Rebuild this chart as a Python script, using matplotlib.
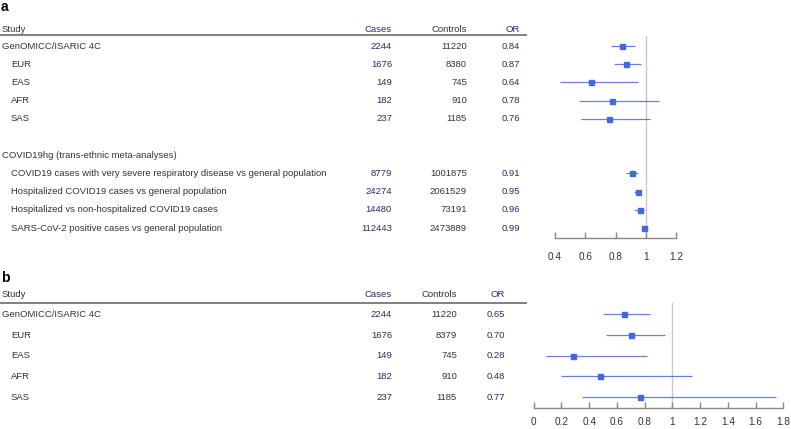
import matplotlib
matplotlib.use("Agg")
import matplotlib.pyplot as plt
import matplotlib.transforms as mtransforms
from matplotlib.lines import Line2D

plt.rcParams['font.family'] = ['Liberation Sans', 'DejaVu Sans']

# ---- panel a data ----
a_study = ["GenOMICC/ISARIC 4C", "EUR", "EAS", "AFR", "SAS", "",
           "COVID19hg (trans-ethnic meta-analyses)",
           "COVID19 cases with very severe respiratory disease vs general population",
           "Hospitalized COVID19 cases vs general population",
           "Hospitalized vs non-hospitalized COVID19 cases",
           "SARS-CoV-2 positive cases vs general population"]
a_indent = [0, 1, 1, 1, 1, 0, 0, 1, 1, 1, 1]
a_cases = ["2244", "1676", "149", "182", "237", "", "", "8779", "24274", "14480", "112443"]
a_controls = ["11220", "8380", "745", "910", "1185", "", "", "1001875", "2061529", "73191", "2473889"]
a_or = [0.84, 0.87, 0.64, 0.78, 0.76, None, None, 0.91, 0.95, 0.96, 0.99]
a_lo = [0.77, 0.79, 0.43, 0.56, 0.57, None, None, 0.87, 0.92, 0.92, 0.98]
a_hi = [0.93, 0.97, 0.95, 1.09, 1.03, None, None, 0.95, 0.97, 0.99, 1.00]
a_ticks = [0.4, 0.6, 0.8, 1, 1.2]

# ---- panel b data ----
b_study = ["GenOMICC/ISARIC 4C", "EUR", "EAS", "AFR", "SAS"]
b_indent = [0, 1, 1, 1, 1]
b_cases = ["2244", "1676", "149", "182", "237"]
b_controls = ["11220", "8379", "745", "910", "1185"]
b_or = [0.65, 0.70, 0.28, 0.48, 0.77]
b_lo = [0.50, 0.52, 0.09, 0.20, 0.35]
b_hi = [0.84, 0.95, 0.82, 1.14, 1.75]
b_ticks = [0, 0.2, 0.4, 0.6, 0.8, 1, 1.2, 1.4, 1.6, 1.8]

W, H = 791, 429
fig = plt.figure(figsize=(W / 100, H / 100), dpi=100)

FS = 6.8
TXT = '#333333'
NAVY = '#2a2a6a'
BLUE = '#4169e1'
LINE = '#5a70d6'


def fx(px):
    return px / W


def add_panel(label, label_y, ax_box, xlim, ylim, ticks, study, indent, cases,
              controls, ors, lo, hi, header_row, line_row, col_x, line_right, pad):
    left, top, right, bottom = ax_box
    ax = fig.add_axes([fx(left), 1 - bottom / H, fx(right - left), (bottom - top) / H])
    ax.set_xlim(*xlim)
    ax.set_ylim(*ylim)
    for s in ['top', 'right', 'left']:
        ax.spines[s].set_visible(False)
    ax.spines['bottom'].set_color('#888888')
    ax.spines['bottom'].set_linewidth(1.0)
    ax.set_yticks([])
    ax.set_xticks(ticks)
    ax.set_xticklabels([f"{t:g}" for t in ticks])
    ax.tick_params(axis='x', direction='in', length=4, width=1.0, color='#888888',
                   labelsize=FS + 0.4, labelcolor=TXT, pad=pad)
    ax.axvline(1, color='#c8c8c8', lw=1.0, zorder=0)
    for i, (o, l, h) in enumerate(zip(ors, lo, hi)):
        if o is None:
            continue
        ax.plot([l, h], [i, i], color=LINE, lw=0.9, alpha=0.9, solid_capstyle='butt')
        ax.plot([o], [i], marker='s', ms=3.6, color=BLUE, mec=BLUE, lw=0)

    tr = mtransforms.blended_transform_factory(fig.transFigure, ax.transData)
    cx_case, cx_ctrl, cx_or = col_x
    # header
    fig.text(fx(2), header_row, "Study", transform=tr, fontsize=FS, color=TXT, va='center')
    fig.text(fx(cx_case), header_row, "Cases", transform=tr, fontsize=FS, color=NAVY,
             va='center', ha='right')
    fig.text(fx(cx_ctrl), header_row, "Controls", transform=tr, fontsize=FS, color=TXT,
             va='center', ha='right')
    fig.text(fx(cx_or), header_row, "OR", transform=tr, fontsize=FS, color=NAVY,
             va='center', ha='right')
    fig.add_artist(Line2D([0, fx(line_right)], [line_row, line_row], transform=tr,
                          color='#808080', lw=1.4))
    for i, name in enumerate(study):
        x0 = 2 + 9 * indent[i]
        fig.text(fx(x0), i, name, transform=tr, fontsize=FS, color=TXT, va='center')
        if cases[i]:
            fig.text(fx(cx_case), i, cases[i], transform=tr, fontsize=FS, color=NAVY,
                     va='center', ha='right')
        if controls[i]:
            fig.text(fx(cx_ctrl), i, controls[i], transform=tr, fontsize=FS, color=TXT,
                     va='center', ha='right')
        if ors[i] is not None:
            fig.text(fx(cx_or), i, f"{ors[i]:.2f}", transform=tr, fontsize=FS, color=NAVY,
                     va='center', ha='right')
    fig.text(fx(1), 1 - label_y / H, label, fontsize=10, fontweight='bold', color='black',
             va='center')
    return ax


add_panel("a", 7, (555, 36, 676, 237.7), (0.4, 1.2), (10.53, -0.55), a_ticks,
          a_study, a_indent, a_cases, a_controls, a_or, a_lo, a_hi,
          header_row=-0.93, line_row=-0.6, col_x=(392, 467, 520), line_right=526, pad=10)

add_panel("b", 278, (533.7, 303, 783.3, 407.7), (0, 1.8), (4.51, -0.55), b_ticks,
          b_study, b_indent, b_cases, b_controls, b_or, b_lo, b_hi,
          header_row=-0.98, line_row=-0.56, col_x=(392, 457, 505), line_right=526, pad=6.5)

fig.savefig("out.png", dpi=100)
